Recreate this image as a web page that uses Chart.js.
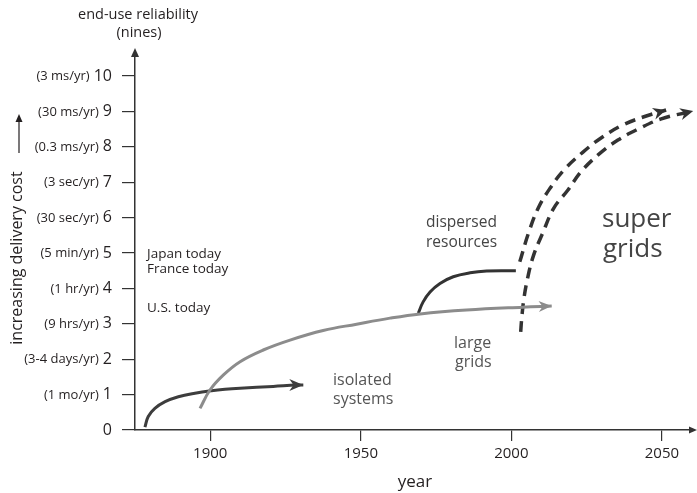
<!DOCTYPE html>
<html>
<head>
<meta charset="utf-8">
<script src="https://cdn.jsdelivr.net/npm/chart.js@4.4.1/dist/chart.umd.min.js"></script>
<style>
  html, body { margin: 0; padding: 0; background: #fff; }
  canvas { display: block; }
</style>
</head>
<body>
<canvas id="nines" width="697" height="493"></canvas>
<script>
// axis ticks
const yearTicks = [1900, 1950, 2000, 2050];
const levelTicks = [0, 1, 2, 3, 4, 5, 6, 7, 8, 9, 10];
const downtimeLabels = ["", "(1 mo/yr)", "(3-4 days/yr)", "(9 hrs/yr)", "(1 hr/yr)", "(5 min/yr)",
  "(30 sec/yr)", "(3 sec/yr)", "(0.3 ms/yr)", "(30 ms/yr)", "(3 ms/yr)"];

// curves (year, nines)
const isolatedYears = [1878.3, 1879.4, 1881.6, 1885.0, 1889.4, 1894.9, 1900.4, 1904.9, 1909.9, 1920.9, 1928.7, 1930.9];
const isolatedLevels = [0.08, 0.38, 0.61, 0.80, 0.94, 1.04, 1.11, 1.15, 1.18, 1.23, 1.27, 1.27];

const largeYears = [1896.6, 1899.9, 1904.3, 1909.9, 1917.6, 1926.5, 1937.5, 1948.6, 1959.7, 1969.7, 1985.1, 2003.7, 2013.4];
const largeLevels = [0.61, 1.13, 1.55, 1.93, 2.26, 2.54, 2.81, 2.99, 3.16, 3.28, 3.39, 3.47, 3.50];

const dispersedYears = [1969.1, 1970.7, 1973.0, 1976.3, 1980.7, 1986.3, 1991.8, 1999.5, 2001.5];
const dispersedLevels = [3.30, 3.62, 3.90, 4.14, 4.33, 4.44, 4.49, 4.50, 4.50];

const superAYears = [2002.8, 2005.8, 2009.1, 2013.1, 2017.4, 2023.8, 2029.8, 2037.1, 2044.8, 2051.4];
const superALevels = [4.75, 5.59, 6.30, 6.86, 7.34, 7.85, 8.25, 8.62, 8.87, 9.04];

const superBYears = [2003.1, 2003.4, 2004.1, 2005.4, 2007.4, 2010.4, 2014.1, 2018.8, 2023.1, 2028.8, 2035.4, 2042.1, 2049.8, 2060.4];
const superBLevels = [2.77, 3.11, 3.67, 4.29, 4.94, 5.56, 6.27, 6.78, 7.29, 7.77, 8.19, 8.50, 8.79, 9.01];

const FONT = '"Open Sans", "DejaVu Sans", sans-serif';
const INK = "#231f20";

function pts(xs, ys) {
  return xs.map((x, i) => ({ x: x, y: ys[i] }));
}

function curve(xs, ys, color, extra) {
  return Object.assign({
    data: pts(xs, ys),
    borderColor: color,
    backgroundColor: color,
    borderWidth: 3,
    pointRadius: 0,
    tension: 0.4,
    fill: false,
    clip: false,
  }, extra || {});
}

function drawHead(ctx, from, to, color, len, half) {
  const ang = Math.atan2(to.y - from.y, to.x - from.x);
  ctx.save();
  ctx.translate(to.x, to.y);
  ctx.rotate(ang);
  ctx.setLineDash([]);
  ctx.fillStyle = color;
  ctx.beginPath();
  ctx.moveTo(0, 0);
  ctx.lineTo(-len, -half);
  ctx.lineTo(-len * 0.7, 0);
  ctx.lineTo(-len, half);
  ctx.closePath();
  ctx.fill();
  ctx.restore();
}

const annotate = {
  id: "annotate",
  afterDraw(chart) {
    const { ctx, chartArea: area, scales } = chart;
    const y = scales.y;
    ctx.save();

    // axis arrowheads
    ctx.fillStyle = "#333";
    ctx.beginPath();
    ctx.moveTo(area.left, area.top - 5);
    ctx.lineTo(area.left - 4, area.top + 4);
    ctx.lineTo(area.left + 4, area.top + 4);
    ctx.closePath();
    ctx.fill();
    ctx.beginPath();
    ctx.moveTo(area.right + 5, area.bottom);
    ctx.lineTo(area.right - 3, area.bottom - 3.5);
    ctx.lineTo(area.right - 3, area.bottom + 3.5);
    ctx.closePath();
    ctx.fill();

    // downtime labels beside the nines
    ctx.textAlign = "right";
    ctx.textBaseline = "middle";
    ctx.fillStyle = INK;
    levelTicks.forEach((v, i) => {
      if (!downtimeLabels[i]) return;
      ctx.font = "16px " + FONT;
      const w = ctx.measureText(String(v)).width;
      ctx.font = "13px " + FONT;
      ctx.fillText(downtimeLabels[i], area.left - 23 - w - 4, y.getPixelForValue(v) + 0.5);
    });

    // arrowheads on curves
    chart.data.datasets.forEach((ds, i) => {
      if (!ds.arrow) return;
      const els = chart.getDatasetMeta(i).data;
      const a = els[els.length - 2], b = els[els.length - 1];
      drawHead(ctx, a, b, ds.borderColor, ds.arrow[0], ds.arrow[1]);
    });

    // delivery cost arrow
    ctx.strokeStyle = INK;
    ctx.lineWidth = 1.2;
    ctx.beginPath();
    ctx.moveTo(19, 153);
    ctx.lineTo(19, 120);
    ctx.stroke();
    ctx.fillStyle = INK;
    ctx.beginPath();
    ctx.moveTo(19, 114);
    ctx.lineTo(15.5, 122);
    ctx.lineTo(22.5, 122);
    ctx.closePath();
    ctx.fill();

    ctx.save();
    ctx.translate(22, 258);
    ctx.rotate(-Math.PI / 2);
    ctx.textAlign = "center";
    ctx.textBaseline = "alphabetic";
    ctx.font = "16px " + FONT;
    ctx.fillText("increasing delivery cost", 0, 0);
    ctx.restore();

    // texts
    ctx.textBaseline = "alphabetic";
    ctx.textAlign = "center";
    ctx.fillStyle = INK;
    ctx.font = "14.5px " + FONT;
    ctx.fillText("end-use reliability", 138, 19);
    ctx.fillText("(nines)", 139, 37);
    ctx.font = "17px " + FONT;
    ctx.fillText("year", 415, 487);

    ctx.textAlign = "left";
    ctx.font = "13.5px " + FONT;
    ctx.fillText("Japan today", 147, 258);
    ctx.fillText("France today", 147, 273);
    ctx.fillText("U.S. today", 147, 312);

    ctx.fillStyle = "#555";
    ctx.font = "16px " + FONT;
    ctx.fillText("isolated", 333, 385);
    ctx.fillText("systems", 333, 404);
    ctx.fillText("large", 454, 348);
    ctx.fillText("grids", 455, 367);
    ctx.fillStyle = "#444";
    ctx.font = "15.5px " + FONT;
    ctx.fillText("dispersed", 426, 227);
    ctx.fillText("resources", 426, 247);
    ctx.font = "26px " + FONT;
    ctx.fillText("super", 602, 227);
    ctx.fillText("grids", 603, 257);

    ctx.restore();
  },
};

new Chart(document.getElementById("nines"), {
  type: "line",
  data: {
    datasets: [
      curve(largeYears, largeLevels, "#8c8c8c", { arrow: [13, 5.5] }),
      curve(isolatedYears, isolatedLevels, "#3d3d3d", { arrow: [14, 6] }),
      curve(dispersedYears, dispersedLevels, "#333333"),
      curve(superAYears, superALevels, "#333333", { borderDash: [11, 7], borderWidth: 3.5, arrow: [13, 6] }),
      curve(superBYears, superBLevels, "#333333", { borderDash: [11, 7], borderWidth: 3.5, arrow: [13, 6] }),
    ],
  },
  options: {
    responsive: false,
    animation: false,
    layout: { padding: { top: 53, right: 5, bottom: 0, left: 0 } },
    plugins: { legend: { display: false }, tooltip: { enabled: false } },
    scales: {
      x: {
        type: "linear",
        min: 1875,
        max: 2060,
        afterBuildTicks: (s) => { s.ticks = yearTicks.map((v) => ({ value: v })); },
        afterFit: (s) => { s.height = 63; },
        ticks: { color: INK, font: { family: FONT, size: 15 }, padding: 4, callback: (v) => String(v) },
        grid: { drawOnChartArea: false, drawTicks: true, tickLength: 11, color: "#333", lineWidth: 1.2 },
        border: { color: "#333", width: 1.5 },
      },
      y: {
        type: "linear",
        min: 0,
        max: 10.65,
        afterBuildTicks: (s) => { s.ticks = levelTicks.map((v) => ({ value: v })); },
        afterFit: (s) => { s.width = 135; },
        ticks: { color: INK, font: { family: FONT, size: 16 }, padding: 10, callback: (v) => String(v) },
        grid: { drawOnChartArea: false, drawTicks: true, tickLength: 13, color: "#333", lineWidth: 1.2 },
        border: { color: "#333", width: 1.5 },
      },
    },
  },
  plugins: [annotate],
});
</script>
</body>
</html>
